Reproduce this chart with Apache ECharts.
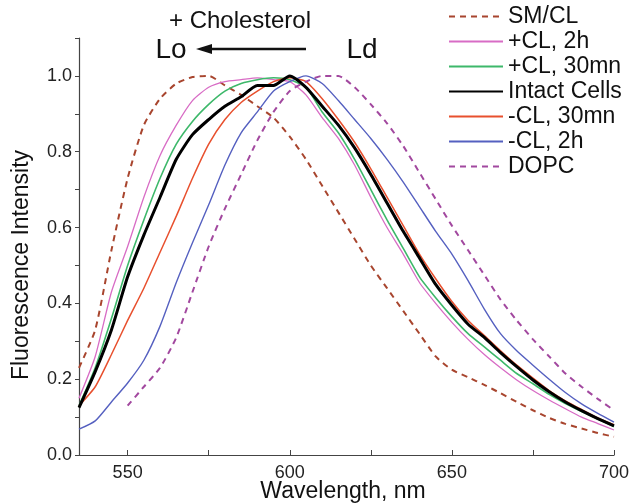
<!DOCTYPE html>
<html>
<head>
<meta charset="utf-8">
<script src="https://cdn.jsdelivr.net/npm/echarts@6/dist/echarts.min.js"></script>
<style>
html,body{margin:0;padding:0;background:#fff;}
#chart{width:632px;height:504px;}
</style>
</head>
<body>
<div id="chart"></div>
<script>
// Wavelengths (nm)
const wavelengths = [535,540,545,550,555,560,565,570,575,580,585,590,595,600,605,610,615,620,625,630,635,640,645,650,655,660,665,670,675,680,685,690,695,700];
const wavelengthsDOPC = [550,555,560,565,570,575,580,585,590,595,600,605,610,615,620,625,630,635,640,645,650,655,660,665,670,675,680,685,690,695,700];

// Normalized fluorescence intensity
const smcl     = [0.23,0.33,0.54,0.73,0.87,0.94,0.98,0.997,1.0,0.975,0.95,0.92,0.89,0.84,0.78,0.71,0.64,0.57,0.50,0.44,0.38,0.32,0.26,0.225,0.205,0.185,0.163,0.14,0.118,0.098,0.082,0.07,0.058,0.048];
const plusCL2h = [0.15,0.26,0.43,0.55,0.68,0.79,0.87,0.935,0.97,0.985,0.99,0.995,0.99,0.985,0.95,0.89,0.835,0.765,0.68,0.60,0.53,0.455,0.40,0.35,0.305,0.265,0.23,0.198,0.17,0.145,0.122,0.10,0.083,0.066];
const plusCL30 = [0.13,0.23,0.36,0.50,0.62,0.73,0.82,0.88,0.925,0.96,0.98,0.99,0.995,0.99,0.97,0.905,0.85,0.78,0.70,0.62,0.545,0.47,0.415,0.365,0.32,0.285,0.25,0.215,0.188,0.16,0.136,0.115,0.095,0.075];
const intact   = [0.125,0.22,0.33,0.47,0.58,0.68,0.78,0.845,0.885,0.92,0.945,0.975,0.975,1.0,0.97,0.92,0.87,0.81,0.74,0.665,0.59,0.52,0.45,0.395,0.345,0.31,0.27,0.233,0.198,0.167,0.14,0.117,0.096,0.077];
const minusCL30 = [0.13,0.18,0.265,0.355,0.44,0.535,0.63,0.73,0.82,0.885,0.93,0.96,0.985,0.995,0.985,0.94,0.885,0.825,0.755,0.68,0.605,0.53,0.465,0.405,0.355,0.315,0.275,0.237,0.203,0.17,0.143,0.12,0.098,0.08];
const minusCL2h = [0.068,0.09,0.14,0.19,0.25,0.34,0.455,0.56,0.66,0.765,0.85,0.905,0.96,0.985,1.0,0.98,0.935,0.885,0.835,0.78,0.72,0.655,0.59,0.53,0.46,0.385,0.32,0.275,0.237,0.2,0.165,0.135,0.11,0.087];
const dopc     = [0.13,0.18,0.23,0.31,0.43,0.55,0.65,0.74,0.83,0.905,0.96,0.985,1.0,1.0,0.97,0.925,0.875,0.815,0.745,0.675,0.605,0.54,0.475,0.41,0.355,0.305,0.26,0.215,0.18,0.148,0.118];

const seriesNames = ['SM/CL','+CL, 2h','+CL, 30mn','Intact Cells','-CL, 30mn','-CL, 2h','DOPC'];
const xLabelValues = [550,600,650,700];
const xTickValues = [550,575,600,625,650,675,700];

const FONT = 'Liberation Sans, Arial, sans-serif';
function pairs(xs, ys){ return xs.map((x,i)=>[x, ys[i]]); }

const specs = [
  {name: seriesNames[0], x: wavelengths, y: smcl, color:'#a8452e', width:2, type:[6,5]},
  {name: seriesNames[1], x: wavelengths, y: plusCL2h, color:'#d86cc5', width:1.3, type:'solid'},
  {name: seriesNames[2], x: wavelengths, y: plusCL30, color:'#3db86a', width:1.6, type:'solid'},
  {name: seriesNames[3], x: wavelengths, y: intact, color:'#000000', width:3, type:'solid'},
  {name: seriesNames[4], x: wavelengths, y: minusCL30, color:'#e8502e', width:1.5, type:'solid'},
  {name: seriesNames[5], x: wavelengths, y: minusCL2h, color:'#5560c0', width:1.4, type:'solid'},
  {name: seriesNames[6], x: wavelengthsDOPC, y: dopc, color:'#a2489f', width:2, type:[6,5]}
];

const chart = echarts.init(document.getElementById('chart'), null, {renderer:'canvas'});
chart.setOption({
  animation:false,
  backgroundColor:'#fff',
  grid:{left:79, right:18, top:38, bottom:49, outerBoundsMode:'none', containLabel:false},
  legend:{
    orient:'vertical', left:448, top:4, padding:0,
    itemWidth:54, itemHeight:14, itemGap:0,
    itemStyle:{color:'rgba(0,0,0,0)', borderWidth:0, opacity:0},
    textStyle:{fontFamily:FONT, fontSize:23, color:'#111', lineHeight:25},
    data: seriesNames
  },
  xAxis:{
    type:'value', min:535, max:700,
    axisLine:{lineStyle:{color:'#444', width:1.2}},
    axisTick:{inside:true, length:5, customValues:xTickValues, lineStyle:{color:'#444'}},
    axisLabel:{customValues:xLabelValues, fontFamily:FONT, fontSize:18, color:'#222', margin:9},
    splitLine:{show:false}
  },
  yAxis:{
    type:'value', min:0, max:1.1, interval:0.1,
    axisLine:{show:true, lineStyle:{color:'#444', width:1.2}},
    axisTick:{show:true, inside:false, length:4, lineStyle:{color:'#444'}},
    axisLabel:{fontFamily:FONT, fontSize:18, color:'#222', margin:7,
      formatter:function(v){ const k=Math.round(v*10); return (k%2===0 && k<=10) ? (k/10).toFixed(1) : ''; }},
    splitLine:{show:false}
  },
  graphic:[
    {type:'text', rotation:Math.PI/2, x:22, y:265, style:{text:'Fluorescence Intensity', x:0, y:0, align:'center', verticalAlign:'middle', font:'23px '+FONT, fill:'#111'}},
    {type:'text', style:{text:'Wavelength, nm', x:343, y:492, align:'center', verticalAlign:'middle', font:'23px '+FONT, fill:'#111'}},
    {type:'text', style:{text:'+ Cholesterol', x:240, y:21, align:'center', verticalAlign:'middle', font:'24px '+FONT, fill:'#111'}},
    {type:'text', style:{text:'Lo', x:171, y:50, align:'center', verticalAlign:'middle', font:'28px '+FONT, fill:'#111'}},
    {type:'text', style:{text:'Ld', x:362, y:50, align:'center', verticalAlign:'middle', font:'28px '+FONT, fill:'#111'}},
    {type:'line', shape:{x1:208, y1:49, x2:306, y2:49}, style:{stroke:'#111', lineWidth:2.5}},
    {type:'polygon', shape:{points:[[196,49],[212,44],[212,54]]}, style:{fill:'#111'}}
  ],
  series: specs.map(s=>({
    name:s.name, type:'line', data:pairs(s.x, s.y),
    showSymbol:false, symbol:'none', smooth:0.2,
    lineStyle:{color:s.color, width:s.width, type:s.type},
    itemStyle:{color:s.color},
    z: s.name==='Intact Cells'?5:3
  }))
});
</script>
</body>
</html>
